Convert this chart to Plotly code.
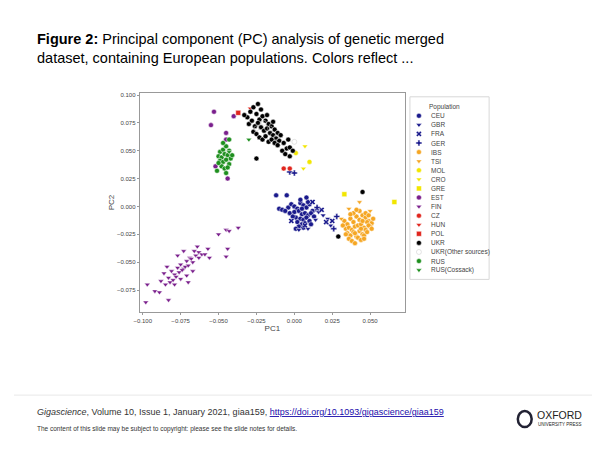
import plotly.graph_objects as go

# PC1 / PC2 values, per population
ceu_x = [-0.012, -0.005, -0.010, -0.008, -0.004, -0.002, 0.000, 0.002, 0.004, 0.006, 0.008, 0.010, 0.012,
         -0.003, 0.000, 0.003, 0.005, 0.007, 0.009, 0.011, 0.001, 0.004, 0.006, 0.008, 0.002, 0.005,
         0.007, 0.010, 0.003, 0.006, -0.001, 0.009, 0.013, 0.015, 0.004, 0.001, 0.008, -0.006, 0.011, 0.005]
ceu_y = [0.010, 0.010, -0.002, -0.003, -0.001, 0.002, 0.000, -0.002, 0.003, 0.001, -0.001, 0.002, -0.004,
         -0.006, -0.005, -0.004, -0.007, -0.006, -0.008, -0.006, -0.010, -0.011, -0.012, -0.010, -0.014, -0.016,
         -0.015, -0.013, -0.018, -0.019, -0.009, 0.004, -0.009, -0.003, 0.006, -0.020, 0.008, -0.004, -0.016, -0.002]
gbr_x = [0.016, 0.019, 0.022, 0.014, 0.003, 0.009, 0.024]
gbr_y = [-0.005, -0.008, -0.011, -0.012, -0.021, -0.020, -0.017]
fra_x = [0.018, 0.021, 0.025, 0.012, 0.007, -0.002]
fra_y = [-0.003, -0.014, -0.013, 0.004, -0.017, -0.013]
ger_x = [-0.003, 0.000, 0.026, 0.028, 0.015]
ger_y = [0.031, 0.030, -0.020, -0.009, -0.001]

ibs_x = [0.033, 0.035, 0.037, 0.039, 0.041, 0.043, 0.045, 0.047, 0.049, 0.051, 0.034, 0.036, 0.038,
         0.040, 0.042, 0.044, 0.046, 0.048, 0.050, 0.052, 0.035, 0.037, 0.039, 0.041, 0.043, 0.045,
         0.047, 0.049, 0.036, 0.038, 0.040, 0.042, 0.044, 0.046, 0.048, 0.032, 0.039, 0.043, 0.047, 0.041,
         0.044, 0.049, 0.037, 0.045, 0.051, 0.034, 0.040, 0.046]
ibs_y = [-0.013, -0.016, -0.011, -0.014, -0.009, -0.012, -0.008, -0.010, -0.013, -0.015, -0.020, -0.019, -0.021,
         -0.018, -0.017, -0.016, -0.019, -0.014, -0.018, -0.011, -0.024, -0.026, -0.023, -0.027, -0.022, -0.025,
         -0.021, -0.017, -0.029, -0.031, -0.033, -0.028, -0.030, -0.026, -0.023, -0.017, -0.006, -0.004, -0.006, -0.003,
         -0.020, -0.008, -0.007, -0.013, -0.020, -0.025, -0.024, -0.029]
tsi_x = [0.043, 0.036, 0.050, 0.031]
tsi_y = [0.004, -0.002, -0.004, -0.011]
mol_x = [0.010, 0.001]
mol_y = [0.040, 0.048]
cro_x = [0.007, 0.006]
cro_y = [0.054, 0.034]
gre_x = [0.033, 0.066]
gre_y = [0.011, 0.004]

est_x = [-0.053, -0.055, -0.045, -0.044, -0.052, -0.040, -0.045]
est_y = [0.085, 0.073, 0.066, 0.025, 0.036, 0.081, 0.060]
fin_x = [-0.097, -0.092, -0.088, -0.086, -0.083, -0.081, -0.079, -0.077, -0.075, -0.073, -0.071, -0.069, -0.067,
         -0.065, -0.063, -0.061, -0.085, -0.082, -0.080, -0.078, -0.076, -0.074, -0.072, -0.070, -0.068, -0.066,
         -0.064, -0.084, -0.079, -0.075, -0.071, -0.067, -0.063, -0.059, -0.057, -0.098, -0.089, -0.083, -0.070,
         -0.050, -0.045, -0.043, -0.037, -0.044, -0.045, -0.056, -0.077, -0.073]
fin_y = [-0.070, -0.076, -0.067, -0.060, -0.064, -0.058, -0.061, -0.055, -0.052, -0.056, -0.049, -0.046, -0.050,
         -0.044, -0.041, -0.043, -0.070, -0.068, -0.066, -0.063, -0.059, -0.057, -0.054, -0.053, -0.047, -0.040,
         -0.036, -0.054, -0.070, -0.065, -0.062, -0.058, -0.046, -0.043, -0.038, -0.086, -0.077, -0.084, -0.068,
         -0.025, -0.021, -0.022, -0.019, -0.038, -0.045, -0.046, -0.044, -0.040]

cz_x = [-0.007, -0.003]
cz_y = [0.034, 0.034]
hun_x = [-0.029]
hun_y = [0.088]
pol_x = [-0.037]
pol_y = [0.084]

ukr_x = [-0.031, -0.029, -0.027, -0.025, -0.023, -0.021, -0.019, -0.017, -0.015, -0.013, -0.011, -0.009, -0.030,
         -0.028, -0.026, -0.024, -0.022, -0.020, -0.018, -0.016, -0.014, -0.012, -0.010, -0.027, -0.025, -0.023,
         -0.021, -0.019, -0.017, -0.015, -0.013, -0.011, -0.007, -0.005, -0.003, -0.025, -0.033, -0.008, -0.003,
         -0.006, -0.022, -0.018, -0.014, -0.024, 0.045, 0.029, -0.004, -0.001]
ukr_y = [0.080, 0.085, 0.089, 0.083, 0.078, 0.081, 0.077, 0.074, 0.072, 0.069, 0.066, 0.064, 0.074,
         0.077, 0.072, 0.075, 0.071, 0.068, 0.070, 0.066, 0.064, 0.061, 0.059, 0.067, 0.065, 0.062,
         0.060, 0.063, 0.058, 0.060, 0.057, 0.055, 0.057, 0.052, 0.053, 0.043, 0.082, 0.050, 0.045,
         0.047, 0.087, 0.082, 0.076, 0.092, 0.013, -0.027, 0.060, 0.050]
ukro_x = [0.000, -0.020, -0.016, -0.012, -0.025]
ukro_y = [0.058, 0.075, 0.070, 0.062, 0.070]

rus_x = [-0.049, -0.047, -0.045, -0.043, -0.050, -0.048, -0.046, -0.044, -0.042, -0.049, -0.047, -0.045,
         -0.043, -0.048, -0.046, -0.044, -0.051, -0.045, -0.041, -0.047, -0.043, -0.050]
rus_y = [0.049, 0.051, 0.054, 0.050, 0.045, 0.044, 0.047, 0.046, 0.043, 0.041, 0.040, 0.042, 0.038,
         0.036, 0.034, 0.035, 0.032, 0.030, 0.046, 0.057, 0.060, 0.039]
russ_x = [-0.030, -0.043]
russ_y = [0.060, 0.049]

NAVY = "#1a1a8c"
ORANGE = "#f5a623"
YELLOW = "#f2e600"
PURPLE = "#7a1f8c"
RED = "#e0261e"
GREEN = "#1e8f1e"

groups = [
    ("CEU", ceu_x, ceu_y, NAVY, "circle"),
    ("GBR", gbr_x, gbr_y, NAVY, "triangle-down"),
    ("FRA", fra_x, fra_y, NAVY, "x"),
    ("GER", ger_x, ger_y, NAVY, "cross"),
    ("IBS", ibs_x, ibs_y, ORANGE, "circle"),
    ("TSI", tsi_x, tsi_y, ORANGE, "triangle-down"),
    ("MOL", mol_x, mol_y, YELLOW, "circle"),
    ("CRO", cro_x, cro_y, YELLOW, "triangle-down"),
    ("GRE", gre_x, gre_y, YELLOW, "square"),
    ("EST", est_x, est_y, PURPLE, "circle"),
    ("FIN", fin_x, fin_y, PURPLE, "triangle-down"),
    ("CZ", cz_x, cz_y, RED, "circle"),
    ("HUN", hun_x, hun_y, RED, "triangle-down"),
    ("POL", pol_x, pol_y, RED, "square"),
    ("UKR", ukr_x, ukr_y, "black", "circle"),
    ("UKR(Other sources)", ukro_x, ukro_y, "#c8c8c8", "circle-open"),
    ("RUS", rus_x, rus_y, GREEN, "circle"),
    ("RUS(Cossack)", russ_x, russ_y, GREEN, "triangle-down"),
]

# page offset of the figure inside the browser window
DX, DY = 10, 9
W, H = 590, 441
def px(x):
    return (x - DX) / W
def py(y):
    return 1 - (y - DY) / H

fig = go.Figure()
for name, xs, ys, col, sym in groups:
    fig.add_trace(go.Scatter(
        x=xs, y=ys, mode="markers", name=name, showlegend=False,
        marker=dict(color=col, symbol=sym, size=5,
                    line=dict(color="white" if "open" not in sym else col, width=0.5)),
    ))

# hand-built legend on its own small axis (one row per population)
names = [g[0] for g in groups]
rows = list(range(len(groups)))
fig.add_trace(go.Scatter(
    x=[0] * len(groups), y=rows, mode="markers", xaxis="x2", yaxis="y2", showlegend=False,
    marker=dict(color=[g[3] for g in groups], symbol=[g[4] for g in groups], size=5,
                line=dict(color=[g[3] if "open" in g[4] else "white" for g in groups], width=0.5)),
))

axis_style = dict(showgrid=False, zeroline=False, showline=True, mirror=True,
                  linecolor="#999", linewidth=1, ticks="outside", ticklen=2,
                  tickcolor="#999", tickfont=dict(size=6, color="#444"),
                  tickformat=".3f")
fig.update_layout(
    xaxis=dict(domain=[px(137), px(405)], range=[-0.102, 0.073],
               tickvals=[-0.1, -0.075, -0.05, -0.025, 0, 0.025, 0.05],
               title=dict(text="PC1", font=dict(size=8, color="#444"), standoff=1), **axis_style),
    yaxis=dict(domain=[py(313), py(93)], range=[-0.095, 0.102],
               tickvals=[-0.075, -0.05, -0.025, 0, 0.025, 0.05, 0.075, 0.1],
               title=dict(text="PC2", font=dict(size=8, color="#444"), standoff=1), **axis_style),
    xaxis2=dict(domain=[px(410), px(490)], range=[-1, 7.8], visible=False, fixedrange=True),
    yaxis2=dict(domain=[py(280), py(97)], range=[18.02, -2.09], visible=False, fixedrange=True),
)

legend_ann = [dict(xref="x2", yref="y2", x=0.9, y=-1, text="Population", xanchor="left",
                   showarrow=False, font=dict(size=6.5, color="#444"))]
for r, n in zip(rows, names):
    legend_ann.append(dict(xref="x2", yref="y2", x=1.1, y=r, text=n, xanchor="left",
                           showarrow=False, font=dict(size=6.5, color="#444")))

fig.update_layout(
    width=W, height=H,
    margin=dict(l=0, r=0, t=0, b=0),
    plot_bgcolor="white", paper_bgcolor="white",
    font=dict(family="Liberation Sans, Arial, sans-serif"),
    showlegend=False,
    annotations=legend_ann + [
        dict(xref="paper", yref="paper", x=px(31), y=py(49), xanchor="left", yanchor="middle", align="left",
             showarrow=False, font=dict(size=14.5, color="black"),
             text="<b>Figure 2:</b> Principal component (PC) analysis of genetic merged<br>dataset, containing European populations. Colors reflect ..."),
        dict(xref="paper", yref="paper", x=px(31), y=py(413), xanchor="left", yanchor="middle", showarrow=False,
             font=dict(size=9, color="#333"),
             text="<i>Gigascience</i>, Volume 10, Issue 1, January 2021, giaa159, "
                  "<span style='color:#1a0dab'><u>https://doi.org/10.1093/gigascience/giaa159</u></span>"),
        dict(xref="paper", yref="paper", x=px(31), y=py(430), xanchor="left", yanchor="middle", showarrow=False,
             font=dict(size=6.5, color="#333"),
             text="The content of this slide may be subject to copyright: please see the slide notes for details."),
        dict(xref="paper", yref="paper", x=px(536), y=py(416), xanchor="left", yanchor="middle", showarrow=False,
             font=dict(size=10.5, color="#222"), text="OXFORD"),
        dict(xref="paper", yref="paper", x=px(537), y=py(425), xanchor="left", yanchor="middle", showarrow=False,
             font=dict(size=4.5, color="#222"), text="UNIVERSITY PRESS"),
    ],
    shapes=[
        dict(type="rect", xref="paper", yref="paper", x0=px(410), x1=px(490), y0=py(280), y1=py(97),
             line=dict(color="#d8d8d8", width=1)),
        dict(type="line", xref="paper", yref="paper", x0=0, x1=1, y0=py(396), y1=py(396),
             line=dict(color="#e8e8e8", width=1)),
        dict(type="circle", xref="paper", yref="paper", x0=px(519), x1=px(533), y0=py(428), y1=py(412),
             line=dict(color="#223", width=2.5)),
    ],
)

fig.write_html("out.html")
